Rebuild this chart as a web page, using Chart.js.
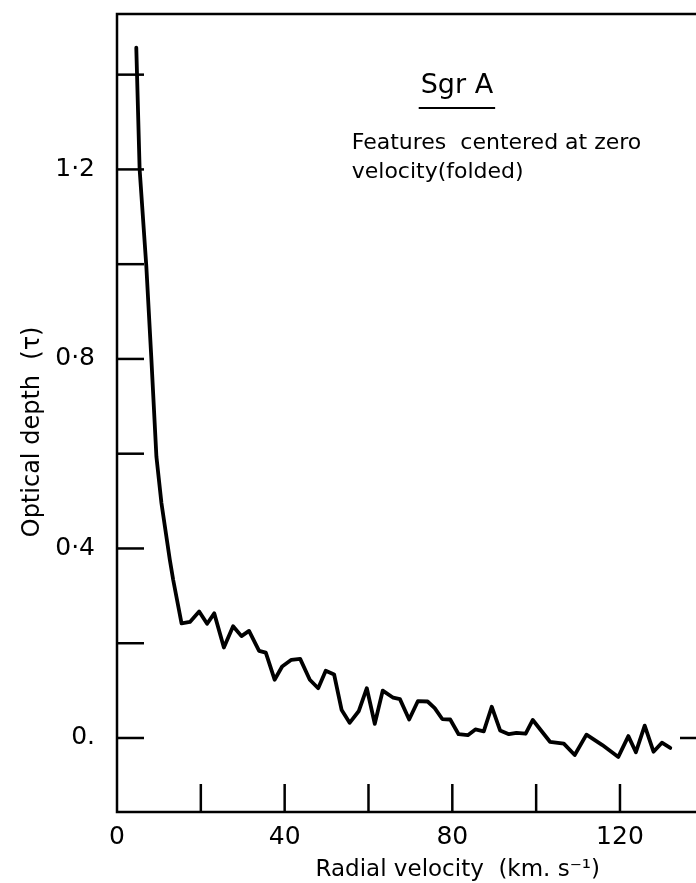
<!DOCTYPE html>
<html lang="en">
<head>
  <meta charset="UTF-8">
  <title>Sgr A - Optical depth vs radial velocity</title>
  <script src="https://cdn.jsdelivr.net/npm/chart.js"></script>
  <style>
    body { margin: 0; background: #fff; }
    canvas { display: block; }
  </style>
</head>
<body>
  <canvas id="depthChart" width="696" height="883"></canvas>

  <script>
    // Values (km/s, optical depth)
    const velocity = [
      4.6, 5.4, 7.0, 8.2, 9.4, 10.6, 12.6, 13.4, 15.4, 17.4,
      19.6, 21.5, 23.2, 25.5, 27.7, 29.7, 31.5, 33.9, 35.5, 37.6,
      39.4, 41.6, 43.7, 46.0, 48.0, 49.8, 51.8, 53.6, 55.5, 57.7,
      59.6, 61.5, 63.4, 65.9, 67.5, 69.7, 71.8, 74.1, 75.8, 77.6,
      79.5, 81.5, 83.7, 85.5, 87.5, 89.4, 91.4, 93.5, 95.3, 97.5,
      99.2, 103.3, 106.6, 109.2, 112.0, 115.8, 119.6, 122.0, 123.8, 125.9,
      128.0, 130.0, 132.0
    ];
    const opticalDepth = [
      1.457, 1.20, 0.995, 0.80, 0.594, 0.496, 0.376, 0.334, 0.242, 0.245,
      0.267, 0.241, 0.263, 0.191, 0.236, 0.215, 0.226, 0.184, 0.180, 0.123,
      0.151, 0.165, 0.167, 0.123, 0.105, 0.142, 0.134, 0.059, 0.032, 0.057,
      0.105, 0.030, 0.100, 0.085, 0.082, 0.039, 0.078, 0.077, 0.063, 0.040,
      0.039, 0.008, 0.006, 0.018, 0.014, 0.066, 0.016, 0.008, 0.011, 0.009,
      0.038, -0.008, -0.012, -0.036, 0.007, -0.015, -0.040, 0.004, -0.030, 0.026,
      -0.029, -0.010, -0.021
    ];

    const xTicks = [0, 20, 40, 60, 80, 100, 120];
    const xTickLabels = { 0: "0", 40: "40", 80: "80", 120: "120" };
    const yTicks = [0, 0.2, 0.4, 0.6, 0.8, 1.0, 1.2, 1.4];
    const yTickLabels = { "0.0": "0.", "0.4": "0·4", "0.8": "0·8", "1.2": "1·2" };

    const FONT = "'DejaVu Sans', sans-serif";

    // frame, inward ticks and the hand-lettered notes
    const framePlugin = {
      id: "frame",
      afterDraw(chart) {
        const ctx = chart.ctx;
        const a = chart.chartArea;
        const xs = chart.scales.x;
        const ys = chart.scales.y;

        ctx.save();
        ctx.strokeStyle = "#000";
        ctx.lineCap = "butt";

        ctx.lineWidth = 2.5;
        ctx.beginPath();
        ctx.moveTo(a.right + 1, a.top);
        ctx.lineTo(a.left, a.top);
        ctx.lineTo(a.left, a.bottom);
        ctx.lineTo(a.right + 1, a.bottom);
        ctx.stroke();

        yTicks.forEach(v => {
          const py = ys.getPixelForValue(v);
          ctx.beginPath();
          ctx.moveTo(a.left, py);
          ctx.lineTo(a.left + 27, py);
          ctx.stroke();
        });
        xTicks.filter(v => v > 0).forEach(v => {
          const px = xs.getPixelForValue(v);
          ctx.beginPath();
          ctx.moveTo(px, a.bottom);
          ctx.lineTo(px, a.bottom - 28);
          ctx.stroke();
        });
        // right-hand zero tick
        const y0 = ys.getPixelForValue(0);
        ctx.beginPath();
        ctx.moveTo(a.right - 15, y0);
        ctx.lineTo(a.right + 1, y0);
        ctx.stroke();

        ctx.fillStyle = "#000";
        ctx.textBaseline = "middle";

        // Sgr A, underlined
        ctx.font = "27px " + FONT;
        ctx.textAlign = "center";
        const sx = xs.getPixelForValue(81.1);
        const sy = ys.getPixelForValue(1.376);
        ctx.fillText("Sgr A", sx, sy);
        const w = ctx.measureText("Sgr A").width;
        ctx.lineWidth = 2;
        ctx.beginPath();
        ctx.moveTo(sx - w / 2 - 2, sy + 22);
        ctx.lineTo(sx + w / 2 + 2, sy + 22);
        ctx.stroke();

        ctx.font = "22px " + FONT;
        ctx.textAlign = "left";
        const fx = xs.getPixelForValue(56);
        ctx.fillText("Features  centered at zero", fx, ys.getPixelForValue(1.256));
        ctx.fillText("velocity(folded)", fx, ys.getPixelForValue(1.193));

        // axis titles
        ctx.font = "23px " + FONT;
        ctx.textAlign = "center";
        ctx.fillText("Radial velocity  (km. s⁻¹)", xs.getPixelForValue(81.3), ys.getPixelForValue(-0.279));

        ctx.save();
        ctx.font = "24px " + FONT;
        ctx.translate(33, ys.getPixelForValue(0.646));
        ctx.rotate(-Math.PI / 2);
        ctx.fillText("Optical depth  (τ)", 0, 0);
        ctx.restore();

        ctx.restore();
      }
    };

    const ctx = document.getElementById("depthChart").getContext("2d");
    new Chart(ctx, {
      type: "line",
      data: {
        datasets: [{
          data: velocity.map((v, i) => ({ x: v, y: opticalDepth[i] })),
          borderColor: "#000",
          borderWidth: 3.8,
          borderJoinStyle: "round",
          borderCapStyle: "round",
          pointRadius: 0,
          tension: 0,
          fill: false
        }]
      },
      options: {
        responsive: false,
        animation: false,
        layout: { padding: { top: 14, right: 1, left: 0, bottom: 0 } },
        plugins: {
          legend: { display: false },
          tooltip: { enabled: false }
        },
        scales: {
          x: {
            type: "linear",
            min: 0,
            max: 137.9,
            afterBuildTicks: s => { s.ticks = xTicks.map(v => ({ value: v })); },
            afterFit: s => {
              s.height = 71;
              s.paddingLeft = 0;
              s.paddingRight = 0;
            },
            grid: { display: false, drawTicks: false },
            border: { display: false },
            ticks: {
              autoSkip: false,
              maxRotation: 0,
              padding: 10,
              color: "#000",
              font: { family: FONT, size: 25 },
              callback: v => xTickLabels[v] ?? ""
            }
          },
          y: {
            type: "linear",
            min: -0.1562,
            max: 1.528,
            afterBuildTicks: s => { s.ticks = yTicks.map(v => ({ value: v })); },
            afterFit: s => {
              s.width = 117;
              s.paddingTop = 0;
              s.paddingBottom = 0;
            },
            grid: { display: false, drawTicks: false },
            border: { display: false },
            ticks: {
              autoSkip: false,
              padding: 22,
              color: "#000",
              font: { family: FONT, size: 25 },
              callback: v => yTickLabels[v.toFixed(1)] ?? ""
            }
          }
        }
      },
      plugins: [framePlugin]
    });
  </script>
</body>
</html>
